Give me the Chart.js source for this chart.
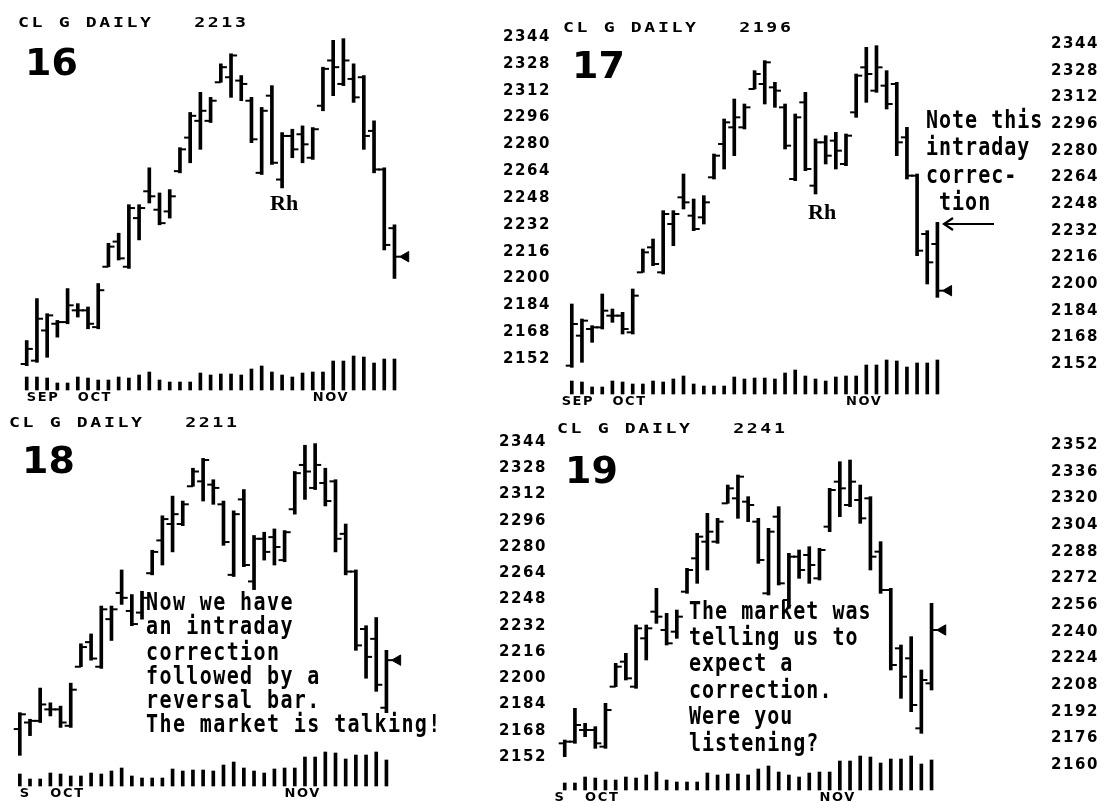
<!DOCTYPE html>
<html>
<head>
<meta charset="utf-8">
<script src="https://cdn.jsdelivr.net/npm/chart.js@4.4.1/dist/chart.umd.min.js"></script>
<style>
  html, body { margin: 0; padding: 0; background: #fff; }
  #page { position: relative; width: 1107px; height: 802px; overflow: hidden; background: #fff; }
  #page canvas { position: absolute; }
  .t { position: absolute; color: #000; white-space: pre; line-height: 1; font-family: 'DejaVu Sans Mono', monospace; font-weight: bold; }
  .head { font-size: 14px; letter-spacing: 2px; transform: scaleX(1.3); transform-origin: 0 0; }
  .num { font-family: 'DejaVu Sans', sans-serif; font-size: 38px; }
  .note { font-size: 20px; letter-spacing: 1px; transform: scaleY(1.2); transform-origin: 0 0; }
  .rh { font-family: 'Liberation Serif', serif; font-size: 22px; }
  svg.mark { position: absolute; left: 0; top: 0; }
</style>
</head>
<body>
<div id="page"></div>
<script>
// CL G daily sessions, oldest first (September through mid-November)
const sessionHigh  = [2163,2188,2179,2175,2194,2185,2183,2197,2221,2227,2244,2244,2266,2251,2253,2278,2299,2311,2308,2328,2334,2321,2308,2302,2315,2287,2289,2291,2290,2326,2342,2343,2328,2321,2294,2266,2232,2237,2217,2257];
const sessionLow   = [2148,2150,2153,2165,2173,2177,2170,2170,2207,2211,2206,2223,2245,2232,2236,2263,2269,2277,2293,2317,2308,2306,2281,2262,2268,2254,2272,2269,2271,2300,2309,2315,2305,2277,2263,2217,2200,2192,2179,2205];
const sessionOpen  = [2149,2151,2169,2173,2174,2181,2181,2171,2207,2222,2207,2236,2252,2241,2240,2264,2284,2294,2294,2317,2320,2318,2306,2263,2309,2259,2285,2286,2272,2303,2330,2316,2319,2320,2288,2265,2230,2224,2182,2209];
const sessionClose = [2158,2176,2178,2174,2184,2181,2173,2193,2219,2212,2242,2242,2249,2233,2249,2277,2297,2300,2306,2326,2333,2316,2283,2300,2269,2285,2277,2280,2289,2325,2326,2330,2308,2285,2265,2220,2213,2196,2211,2241];
const volume       = [13,13,12,7,7,13,12,10,10,13,12,15,18,10,8,8,8,17,15,16,16,15,21,24,18,15,13,17,18,18,29,29,34,33,27,31,31,34,26,30];

// Price axis labels
const priceTicksA = [2344,2328,2312,2296,2280,2264,2248,2232,2216,2200,2184,2168,2152];
const priceTicksB = [2352,2336,2320,2304,2288,2272,2256,2240,2224,2208,2192,2176,2160];

// Month labels: [bar position within the window, text]
const months16 = [[0,'SEP'],[5,'OCT'],[28,'NOV']];
const months17 = [[-1,'SEP'],[4,'OCT'],[27,'NOV']];
const months18 = [[0,'S'],[3,'OCT'],[26,'NOV']];
const months19 = [[-1,'S'],[2,'OCT'],[25,'NOV']];

const WINDOW = 37; // bars shown per chart

const panels = [
  { no: '16', start: 0, left: 0,   top: 0,   w: 560, h: 410, plotTop: 30, xAxisH: 20, yAxisW: 60,
    xMin: -1.93, xMax: 46.33, yMin: 2133.5, yMax: 2348.17, volMax: 360,
    ticks: priceTicksA, months: months16,
    head: [18, 15], num: [25, 43], rh: [270, 192] },
  { no: '17', start: 1, left: 550, top: 0,   w: 557, h: 412, plotTop: 30, xAxisH: 18, yAxisW: 59,
    xMin: -1.456, xMax: 46.89, yMin: 2134.0, yMax: 2352.4, volMax: 364,
    ticks: priceTicksA, months: months17,
    head: [563, 20], num: [572, 46], rh: [808, 201],
    note: { text: 'Note this\nintraday\ncorrec-\n tion', left: 926, top: 106, lh: 23, ls: 1 } },
  { no: '18', start: 2, left: 0,   top: 405, w: 550, h: 397, plotTop: 25, xAxisH: 16, yAxisW: 54,
    xMin: -1.258, xMax: 46.76, yMin: 2134.3, yMax: 2351.3, volMax: 356,
    ticks: priceTicksA, months: months18,
    head: [9, 415], num: [22, 441],
    note: { text: 'Now we have\nan intraday\ncorrection\nfollowed by a\nreversal bar.\nThe market is talking!', left: 146, top: 590, lh: 20.3, ls: 1.4 } },
  { no: '19', start: 3, left: 540, top: 405, w: 567, h: 397, plotTop: 25, xAxisH: 12, yAxisW: 59,
    xMin: -1.74, xMax: 47.43, yMin: 2145.0, yMax: 2361.0, volMax: 360,
    ticks: priceTicksB, months: months19,
    head: [557, 421], num: [565, 451],
    note: { text: 'The market was\ntelling us to\nexpect a\ncorrection.\nWere you\nlistening?', left: 689, top: 597, lh: 22, ls: 1 } }
];

const page = document.getElementById('page');

function addText(cls, text, left, top) {
  const d = document.createElement('div');
  d.className = 't ' + cls;
  d.textContent = text;
  d.style.left = left + 'px';
  d.style.top = top + 'px';
  page.appendChild(d);
  return d;
}

// wide dot-matrix style spacing for the axis lettering
const spacedLabels = {
  id: 'spacedLabels',
  beforeDraw(chart) { chart.ctx.letterSpacing = '1.6px'; }
};

const axisFont = { family: 'DejaVu Sans', weight: 'bold', size: 15 };
const monthFont = { family: 'DejaVu Sans', weight: 'bold', size: 13 };

function buildPanel(p) {
  const canvas = document.createElement('canvas');
  canvas.width = p.w; canvas.height = p.h;
  canvas.style.left = p.left + 'px'; canvas.style.top = p.top + 'px';
  canvas.style.width = p.w + 'px'; canvas.style.height = p.h + 'px';
  page.appendChild(canvas);

  const bars = Array.from({ length: WINDOW }, (_, k) => k);
  const at = k => p.start + k;
  const lastK = WINDOW - 1;

  const ranges = bars.map(k => ({ x: k, y: [sessionLow[at(k)], sessionHigh[at(k)]] }));
  const opens  = bars.map(k => ({ x: k - 0.3, y: sessionOpen[at(k)] }));
  const closes = bars.map(k => ({ x: k + 0.3, y: sessionClose[at(k)] }));
  const vols   = bars.map(k => ({ x: k, y: volume[at(k)] }));
  const lastMark = [{ x: lastK + 1.1, y: sessionClose[at(lastK)] }];

  new Chart(canvas, {
    type: 'bar',
    data: {
      datasets: [
        { type: 'bar', data: ranges, backgroundColor: '#000', barThickness: 3, grouped: false, yAxisID: 'y', clip: false },
        { type: 'bar', data: vols, backgroundColor: '#000', barThickness: 3, grouped: false, yAxisID: 'vol', clip: false },
        { type: 'scatter', data: opens, showLine: false, pointStyle: 'line', pointRadius: 3,
          pointBorderColor: '#000', pointBorderWidth: 2, yAxisID: 'y', clip: false },
        { type: 'scatter', data: closes, showLine: false, pointStyle: 'line', pointRadius: 3,
          pointBorderColor: '#000', pointBorderWidth: 2, yAxisID: 'y', clip: false },
        { type: 'scatter', data: lastMark, showLine: false, pointStyle: 'triangle', pointRotation: -90,
          pointRadius: 6, pointBackgroundColor: '#000', pointBorderColor: '#000', pointBorderWidth: 1,
          yAxisID: 'y', clip: false }
      ]
    },
    options: {
      responsive: false,
      animation: false,
      devicePixelRatio: 1,
      events: [],
      layout: { padding: { top: p.plotTop, left: 0, right: 0, bottom: 0 } },
      plugins: { legend: { display: false }, tooltip: { enabled: false } },
      scales: {
        x: {
          type: 'linear', min: p.xMin, max: p.xMax, offset: false,
          grid: { display: false, drawTicks: false, offset: false }, border: { display: false },
          ticks: {
            color: '#000', padding: 0, align: 'start', autoSkip: false, maxRotation: 0,
            font: monthFont,
            callback: (v, i) => (p.months[i] ? p.months[i][1] : '')
          },
          afterBuildTicks: ax => { ax.ticks = p.months.map(m => ({ value: m[0] })); },
          afterFit: ax => { ax.height = p.xAxisH; }
        },
        y: {
          type: 'linear', position: 'right', min: p.yMin, max: p.yMax,
          grid: { display: false, drawTicks: false }, border: { display: false },
          ticks: {
            color: '#000', padding: 3,
            font: axisFont,
            callback: v => String(v)
          },
          afterBuildTicks: ax => { ax.ticks = p.ticks.map(v => ({ value: v })); },
          afterFit: ax => { ax.width = p.yAxisW; }
        },
        vol: { type: 'linear', display: false, min: 0, max: p.volMax }
      }
    },
    plugins: [spacedLabels]
  });

  addText('head', 'CL G DAILY   ' + sessionClose[at(lastK)], p.head[0], p.head[1]);
  addText('num', p.no, p.num[0], p.num[1]);
  if (p.rh) addText('rh', 'Rh', p.rh[0], p.rh[1]);
  if (p.note) {
    const n = addText('note', p.note.text, p.note.left, p.note.top);
    n.style.lineHeight = p.note.lh + 'px';
    n.style.letterSpacing = p.note.ls + 'px';
  }
}

panels.forEach(buildPanel);

// pointer next to the 17th chart's note
const svgNS = 'http://www.w3.org/2000/svg';
const svg = document.createElementNS(svgNS, 'svg');
svg.setAttribute('class', 'mark');
svg.setAttribute('width', '1107'); svg.setAttribute('height', '802');
const arrow = document.createElementNS(svgNS, 'path');
arrow.setAttribute('d', 'M953 218 L944 224 L953 230 M945 224 L994 224');
arrow.setAttribute('stroke', '#000'); arrow.setAttribute('stroke-width', '2.2'); arrow.setAttribute('fill', 'none');
svg.appendChild(arrow);
page.appendChild(svg);
</script>
</body>
</html>
